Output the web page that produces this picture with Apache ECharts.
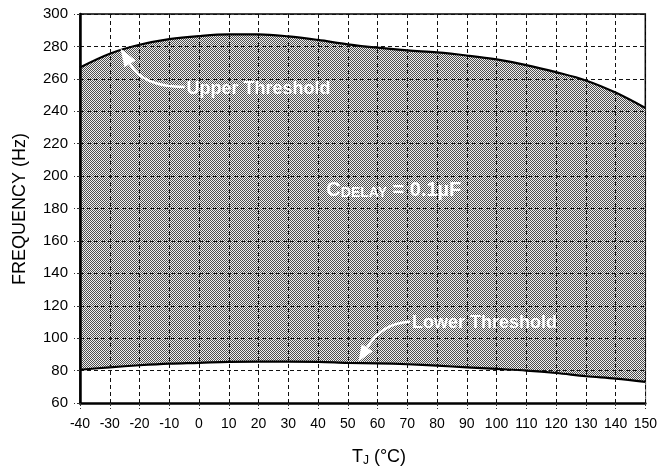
<!DOCTYPE html>
<html><head><meta charset="utf-8">
<script src="https://cdn.jsdelivr.net/npm/echarts@6/dist/echarts.min.js"></script>
<style>html,body{margin:0;padding:0;background:#fff}#c{width:660px;height:474px}</style>
</head><body><div id="c"></div>
<script>
// ---- data ----
const temps   = [-40,-30,-20,-10,0,10,20,30,40,50,60,70,80,90,100,110,120,130,140,150];
const upperHz = [267,275.5,281,284.5,286.4,287.4,287.4,286.2,284,281.3,279.2,277.5,276.3,274.4,272,268.5,264.1,259,251.5,242];
const lowerHz = [80.5,82,83.3,84.3,84.8,85.4,85.5,85.5,85.4,84.8,84.5,83.9,83,82,81,80,78.5,76.5,75,73];
const xTickStep = 10, xMin = -40, xMax = 150;
const yTickStep = 20, yMin = 60, yMax = 300;
const upperLabel = 'Upper Threshold';
const lowerLabel = 'Lower Threshold';
const capLabel = ['C', 'DELAY', ' = 0.1µF'];
const xTitle = ['T', 'J', ' (°C)'];
const yTitle = 'FREQUENCY (Hz)';

const FONT = '"Liberation Sans", Arial, Helvetica, sans-serif';

function makePattern(){
  const c = document.createElement('canvas');
  c.width = 2; c.height = 2;
  const g = c.getContext('2d');
  g.fillStyle = '#efefef'; g.fillRect(0,0,2,2);
  g.fillStyle = '#4e4e4e'; g.fillRect(0,0,1,1); g.fillRect(1,1,1,1);
  return c;
}

const chart = echarts.init(document.getElementById('c'), null, {renderer:'canvas'});
const upperData = temps.map((t,i)=>[t, upperHz[i]]);
const lowerData = temps.map((t,i)=>[t, lowerHz[i]]);

const gridLine = {show:true, lineStyle:{color:'#111', width:1, type:[4,3]}};
chart.setOption({
  animation:false,
  backgroundColor:'#fff',
  grid:{left:80, right:13, top:14, bottom:71, show:true, borderColor:'#000', borderWidth:1.5, backgroundColor:'transparent'},
  xAxis:{type:'value', min:xMin, max:xMax, interval:xTickStep, z:5,
    axisLine:{show:true, onZero:false, lineStyle:{color:'#000', width:2.5}},
    axisTick:{show:true, length:6, lineStyle:{color:'#333', width:1, type:[3,2]}},
    axisLabel:{color:'#000', fontSize:14, fontFamily:FONT, margin:14},
    splitLine:gridLine},
  yAxis:{type:'value', min:yMin, max:yMax, interval:yTickStep, z:5,
    axisLine:{show:true, onZero:false, lineStyle:{color:'#000', width:2.5}},
    axisTick:{show:true, length:6, lineStyle:{color:'#333', width:1, type:[3,2]}},
    axisLabel:{color:'#000', fontSize:15, fontFamily:FONT, margin:12},
    splitLine:gridLine},
  series:[
    {type:'line', name:'Upper Threshold', data:upperData, smooth:0.35, symbol:'none',
     lineStyle:{color:'#000', width:2.2},
     areaStyle:{origin:'start', color:{image:makePattern(), repeat:'repeat'}, opacity:1}, z:1},
    {type:'line', name:'Lower Threshold', data:lowerData, smooth:0.35, symbol:'none',
     lineStyle:{color:'#000', width:2.2},
     areaStyle:{origin:'start', color:'#fff', opacity:1}, z:2}
  ]
});

// ---- annotations positioned in data space ----
const P = (t,v)=>chart.convertToPixel({gridIndex:0},[t,v]);
function arrow(pts, tip){
  const [a,b,c,d] = pts.map(p=>P(p[0],p[1]));
  const tp = P(tip[0],tip[1]);
  const dx = tp[0]-d[0], dy = tp[1]-d[1];
  const L = Math.hypot(dx,dy), ux = dx/L, uy = dy/L;
  const hw = 6.5;
  return [
    {type:'bezierCurve', shape:{x1:a[0],y1:a[1],cpx1:b[0],cpy1:b[1],cpx2:c[0],cpy2:c[1],x2:d[0],y2:d[1]},
     style:{stroke:'#fff', lineWidth:2.5, fill:null}, z:20},
    {type:'polygon', shape:{points:[tp,[d[0]-uy*hw,d[1]+ux*hw],[d[0]+uy*hw,d[1]-ux*hw]]},
     style:{fill:'#fff', stroke:null}, z:20}
  ];
}
const upText = P(-4.2, 253.8);
const loText = P(71.6, 109.3);
const capText = P(42.8, 191.5);
const gfx = [];
gfx.push(...arrow([[-4.8,255],[-14.9,255],[-20.6,260.5],[-23.2,269.2]],[-26.4,278.7]));
gfx.push(...arrow([[70.9,110.1],[63.9,109.5],[59.5,103.3],[56.5,94.1]],[53.6,85.6]));
gfx.push({type:'text', x:upText[0], y:upText[1], z:20,
  style:{text:upperLabel, fill:'#fff', font:'bold 18px '+FONT, textAlign:'left', textVerticalAlign:'middle'}});
gfx.push({type:'text', x:loText[0], y:loText[1], z:20,
  style:{text:lowerLabel, fill:'#fff', font:'bold 18px '+FONT, textAlign:'left', textVerticalAlign:'middle'}});
gfx.push({type:'text', x:capText[0], y:capText[1], z:20,
  style:{text:'{a|'+capLabel[0]+'}{b|'+capLabel[1]+'}{a|'+capLabel[2]+'}', textAlign:'left', textVerticalAlign:'middle',
    rich:{a:{fill:'#fff', fontSize:20, fontWeight:'bold', fontFamily:FONT, lineHeight:21, verticalAlign:'bottom'},
          b:{fill:'#fff', fontSize:14, fontWeight:'bold', fontFamily:FONT, lineHeight:9, verticalAlign:'bottom'}}}});
gfx.push({type:'text', x:379, y:457, z:20,
  style:{text:'{a|'+xTitle[0]+'}{b|'+xTitle[1]+'}{a|'+xTitle[2]+'}', textAlign:'center', textVerticalAlign:'middle',
    rich:{a:{fill:'#000', fontSize:18, fontFamily:FONT, lineHeight:19, verticalAlign:'bottom'},
          b:{fill:'#000', fontSize:12, fontFamily:FONT, lineHeight:9, verticalAlign:'bottom'}}}});
gfx.push({type:'text', x:20, y:209, rotation:Math.PI/2, z:20,
  style:{text:yTitle, fill:'#000', font:'18px '+FONT, textAlign:'center', textVerticalAlign:'middle'}});
chart.setOption({graphic:gfx});
</script>
</body></html>
